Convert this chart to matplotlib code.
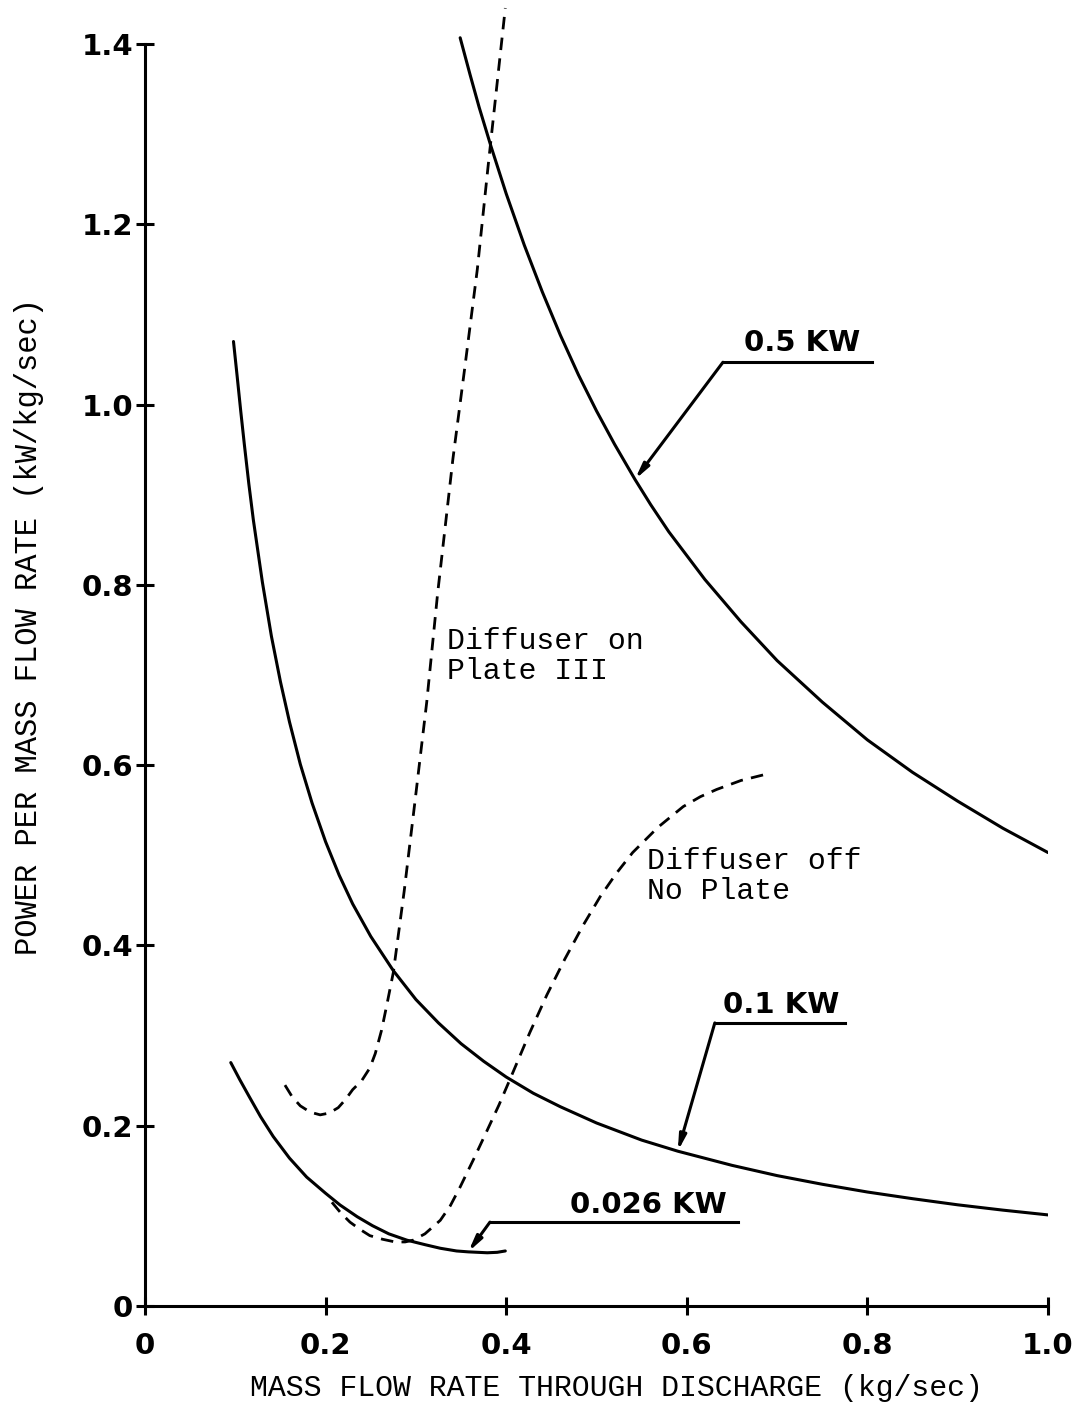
import numpy as np
import matplotlib
matplotlib.use('Agg')
import matplotlib.pyplot as plt

# curves (x: kg/sec, y: kW/kg/sec)
kw05_x = [0.349, 0.36, 0.37, 0.383, 0.40, 0.42, 0.44, 0.46, 0.48, 0.50, 0.52, 0.5426, 0.56, 0.58, 0.62, 0.66,
          0.70, 0.75, 0.80, 0.85, 0.90, 0.95, 1.00]
kw05_y = [1.407, 1.366, 1.330, 1.287, 1.234, 1.177, 1.125, 1.077, 1.033, 0.993, 0.956, 0.917, 0.889, 0.859,
          0.806, 0.759, 0.716, 0.670, 0.628, 0.592, 0.560, 0.530, 0.503]

kw01_x = [0.098, 0.102, 0.106, 0.11, 0.115, 0.12, 0.13, 0.14, 0.15, 0.16, 0.172, 0.185, 0.20, 0.215, 0.23,
          0.25, 0.275, 0.30, 0.325, 0.35, 0.375, 0.40, 0.43, 0.46, 0.50, 0.55, 0.59, 0.65, 0.70, 0.75,
          0.80, 0.85, 0.90, 0.95, 1.00]
kw01_y = [1.07, 1.032, 0.993, 0.956, 0.912, 0.872, 0.803, 0.743, 0.6925, 0.648, 0.601, 0.558, 0.515, 0.478, 0.446,
          0.410, 0.372, 0.340, 0.314, 0.291, 0.2715, 0.254, 0.236, 0.221, 0.203, 0.184, 0.1717, 0.156, 0.1446, 0.135,
          0.1264, 0.119, 0.1122, 0.1063, 0.101]

kw0026_x = [0.095, 0.105, 0.115, 0.128, 0.142, 0.16, 0.179, 0.20, 0.216, 0.235, 0.252, 0.27, 0.29, 0.31,
            0.327, 0.345, 0.358, 0.379, 0.39, 0.399]
kw0026_y = [0.270, 0.251, 0.233, 0.210, 0.188, 0.164, 0.143, 0.125, 0.112, 0.099, 0.089, 0.080, 0.073, 0.068,
            0.064, 0.061, 0.060, 0.059, 0.0595, 0.061]

diff_on_x = [0.155, 0.163, 0.172, 0.183, 0.194, 0.204, 0.214, 0.222, 0.230, 0.240, 0.249, 0.255, 0.262, 0.268,
             0.275, 0.287, 0.299, 0.312, 0.324, 0.341, 0.354, 0.368, 0.380, 0.399]
diff_on_y = [0.245, 0.232, 0.222, 0.215, 0.212, 0.214, 0.220, 0.229, 0.240, 0.250, 0.264, 0.280, 0.306, 0.335,
             0.37, 0.46, 0.56, 0.67, 0.79, 0.94, 1.04, 1.15, 1.265, 1.44]

diff_off_x = [0.207, 0.217, 0.227, 0.238, 0.249, 0.263, 0.277, 0.288, 0.297, 0.31, 0.327, 0.338, 0.349, 0.364,
              0.379, 0.392, 0.404, 0.415, 0.426, 0.445, 0.465, 0.485, 0.504, 0.522, 0.540, 0.568, 0.596,
              0.615, 0.633, 0.66, 0.692]
diff_off_y = [0.115, 0.103, 0.093, 0.085, 0.078, 0.074, 0.071, 0.071, 0.073, 0.080, 0.095, 0.111, 0.132, 0.163,
              0.195, 0.223, 0.251, 0.277, 0.303, 0.345, 0.385, 0.422, 0.454, 0.48, 0.503, 0.531, 0.554,
              0.565, 0.573, 0.583, 0.591]

x_ticks = [0, 0.2, 0.4, 0.6, 0.8, 1.0]
x_ticklabels = ['0', '0.2', '0.4', '0.6', '0.8', '1.0']
y_ticks = [0, 0.2, 0.4, 0.6, 0.8, 1.0, 1.2, 1.4]
y_ticklabels = ['0', '0.2', '0.4', '0.6', '0.8', '1.0', '1.2', '1.4']

fig = plt.figure(figsize=(10.78, 14.05), dpi=100)
ax = fig.add_axes([0.1345, 0.0705, 0.8377, 0.927])

lw = 2.2
for xs, ys in [(kw05_x, kw05_y), (kw01_x, kw01_y), (kw0026_x, kw0026_y)]:
    ax.plot(xs, ys, color='k', lw=lw, solid_capstyle='round', solid_joinstyle='round')
for xs, ys in [(diff_on_x, diff_on_y), (diff_off_x, diff_off_y)]:
    ax.plot(xs, ys, color='k', lw=2.0, dashes=(4.5, 3))

ax.set_xlim(0, 1.0)
ax.set_ylim(0, 1.445)
for s in ['top', 'right']:
    ax.spines[s].set_visible(False)
ax.spines['left'].set_bounds(0, 1.4)
ax.spines['left'].set_linewidth(2.2)
ax.spines['bottom'].set_linewidth(2.2)

ax.set_xticks(x_ticks)
ax.set_xticklabels(x_ticklabels)
ax.set_yticks(y_ticks)
ax.set_yticklabels(y_ticklabels)
ax.tick_params(direction='inout', length=13, width=2.2, labelsize=21)
ax.tick_params(axis='x', pad=12)
ax.tick_params(axis='y', pad=2)
for lab in ax.get_xticklabels() + ax.get_yticklabels():
    lab.set_fontweight('bold')

mono = 'Liberation Mono'
ax.set_xlabel('MASS FLOW RATE THROUGH DISCHARGE (kg/sec)', family=mono, fontsize=21.5)
ax.set_ylabel('POWER PER MASS FLOW RATE (kW/kg/sec)', family=mono, fontsize=22)
ax.xaxis.set_label_coords(0.522, -0.052)
ax.yaxis.set_label_coords(-0.112, 0.522)

ax.text(0.334, 0.721, 'Diffuser on\nPlate III', family=mono, fontsize=21.5,
        ha='left', va='center', linespacing=1.1)
ax.text(0.556, 0.477, 'Diffuser off\nNo Plate', family=mono, fontsize=21.5,
        ha='left', va='center', linespacing=1.1)


def leader(label, text_xy, line_x, line_y, tip):
    ax.text(text_xy[0], text_xy[1], label, fontsize=21, fontweight='bold', ha='center', va='center')
    ax.plot([line_x[0], line_x[1]], [line_y, line_y], color='k', lw=2.2)
    ax.annotate('', xy=tip, xytext=(line_x[0], line_y),
                arrowprops=dict(arrowstyle='-|>,head_length=0.9,head_width=0.2',
                                color='k', lw=2.2, shrinkA=0, shrinkB=0))


leader('0.5 KW', (0.728, 1.068), (0.640, 0.805), 1.047, (0.5426, 0.917))
leader('0.1 KW', (0.705, 0.334), (0.631, 0.775), 0.314, (0.590, 0.1717))
leader('0.026 KW', (0.557, 0.112), (0.382, 0.657), 0.093, (0.358, 0.060))

fig.savefig('out.png', dpi=100)
